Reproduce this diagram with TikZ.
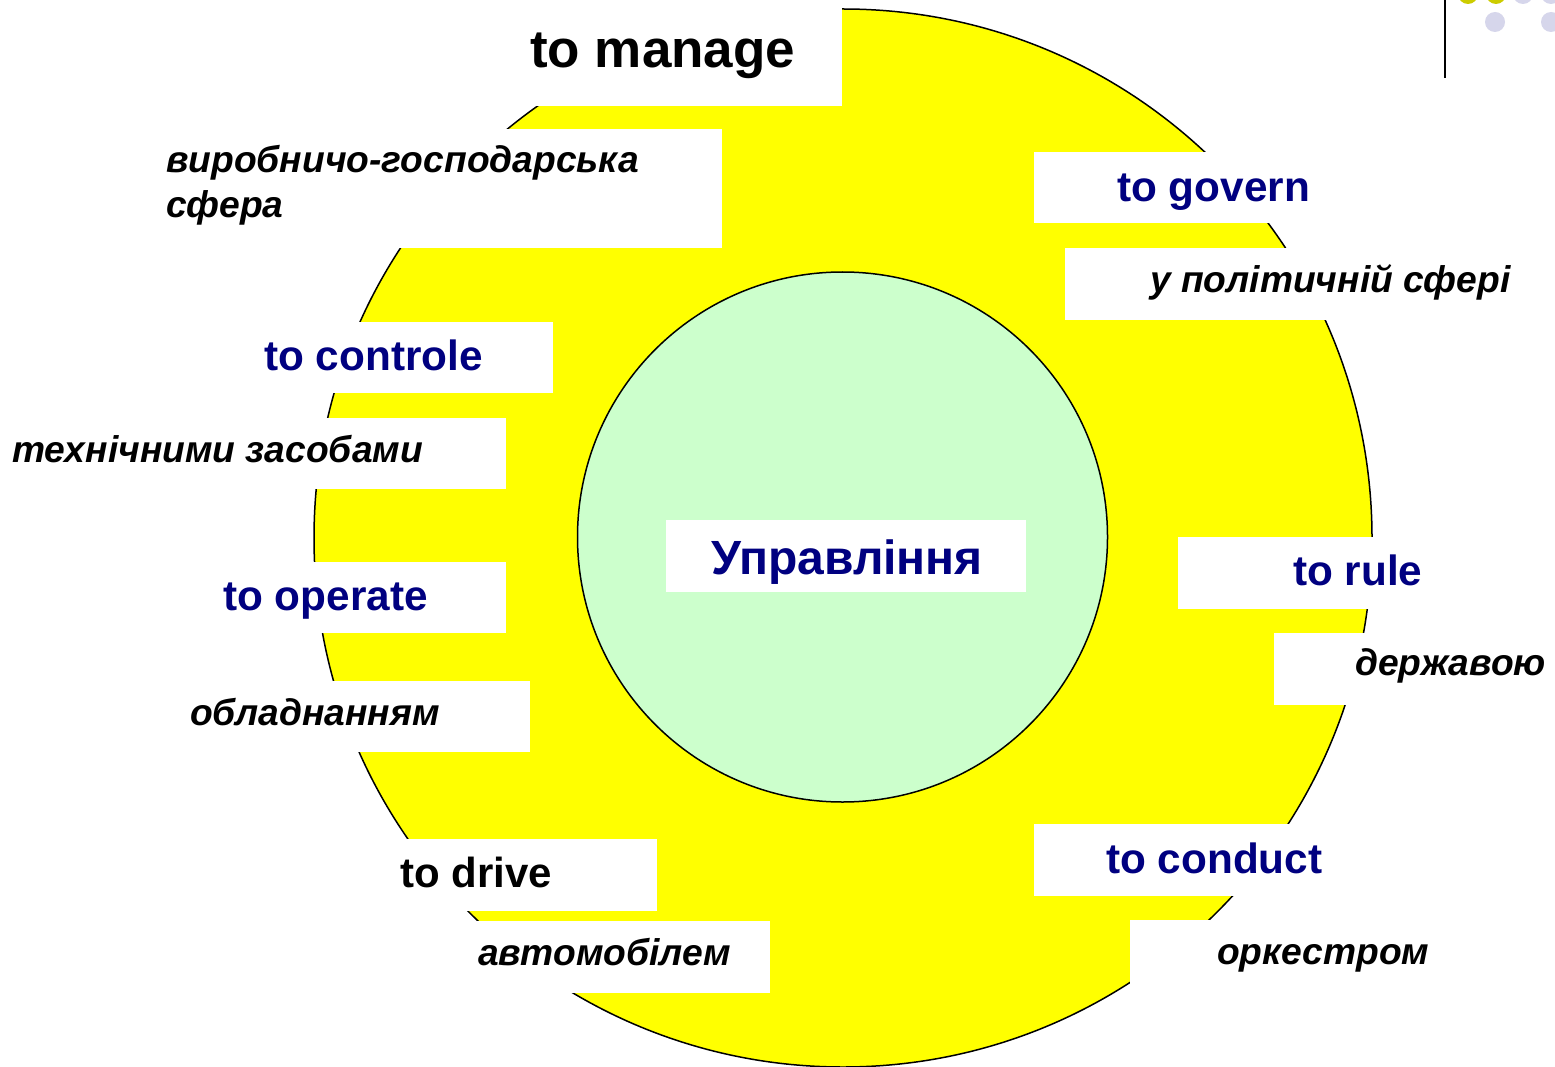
\documentclass[tikz,border=0pt]{standalone}
\usepackage{fontspec}
\setmainfont{Liberation Sans}
\definecolor{navytext}{HTML}{000080}
\definecolor{sunyellow}{HTML}{FFFF00}
\definecolor{palegreen}{HTML}{CCFFCC}
\definecolor{olivedot}{HTML}{CCCC00}
\definecolor{lavdot}{HTML}{D6D6EB}
\newcommand{\wbox}[5]{%
  \node[wboxst, minimum width={(#4-#2)*1pt}, minimum height={(#5-#3)*1pt}] (#1) at ({(#2+#4)/2},{(#3+#5)/2}) {};}
\begin{document}
\begin{tikzpicture}[x=1pt,y=-1pt,
  wboxst/.style={rectangle, fill=white, draw=none, inner sep=0pt, outer sep=0pt},
  entxt/.style={font=\fontsize{42.3}{50}\selectfont\bfseries, text=navytext, anchor=base west, inner sep=0pt},
  bktxt/.style={font=\fontsize{42}{50}\selectfont\bfseries, text=black, anchor=base west, inner sep=0pt},
  uatxt/.style={font=\fontsize{37.2}{45}\selectfont\bfseries\itshape, text=black, anchor=base west, inner sep=0pt},
  dot/.style={circle, inner sep=0pt, minimum size=20pt, draw=none}]
\useasboundingbox (0,0) rectangle (1555,1067);
\fill[white] (0,0) rectangle (1555,1067);
% circles
\node[circle, fill=sunyellow, draw=black, line width=1.5pt, minimum size=1058pt, inner sep=0pt] (outer) at (843,538) {};
\node[circle, fill=palegreen, draw=black, line width=1.5pt, minimum size=530pt, inner sep=0pt] (inner) at (842.5,537) {};
% white boxes
\wbox{bmanage}{505}{0}{842}{106}
\wbox{bvirob}{150}{129}{722}{248}
\wbox{bgovern}{1034}{152}{1330}{223}
\wbox{bpolit}{1065}{248}{1530}{320}
\wbox{bcontrole}{250}{322}{553}{393}
\wbox{btechn}{5}{418}{506}{489}
\wbox{boperate}{210}{562}{506}{633}
\wbox{bobladn}{180}{681}{530}{752}
\wbox{bupr}{666}{520}{1026}{592}
\wbox{brule}{1178}{537}{1440}{609}
\wbox{bderzh}{1274}{633}{1555}{705}
\wbox{bdrive}{390}{839}{657}{911}
\wbox{bavto}{468}{921}{770}{993}
\wbox{bconduct}{1034}{824}{1340}{896}
\wbox{borkestr}{1130}{920}{1450}{992}
% texts
\node[bktxt, font=\fontsize{53}{60}\selectfont\bfseries] (tmanage) at (530,68) {to manage};
\node[uatxt] (tvirob1) at (166,173) {виробничо-господарська};
\node[uatxt] (tvirob2) at (166,218) {сфера};
\node[entxt] (tgovern) at (1117,202) {to govern};
\node[uatxt] (tpolit) at (1150,292) {у політичній сфері};
\node[entxt] (tcontrole) at (264,370) {to controle};
\node[uatxt] (ttechn) at (12,462) {технічними засобами};
\node[entxt] (toperate) at (223,610) {to operate};
\node[uatxt] (tobladn) at (190,725) {обладнанням};
\node[entxt, font=\fontsize{48}{56}\selectfont\bfseries] (tupr) at (711,574) {Управління};
\node[entxt] (trule) at (1293,585) {to rule};
\node[uatxt] (tderzh) at (1355,675) {державою};
\node[bktxt] (tdrive) at (400,887) {to drive};
\node[uatxt] (tavto) at (478,965) {автомобілем};
\node[entxt] (tconduct) at (1106,873) {to conduct};
\node[uatxt] (torkestr) at (1217,964) {оркестром};
% top-right decoration
\draw[line width=2pt] (1445,0) -- (1445,78);
\node[dot, fill=olivedot] (d1) at (1468,-6) {};
\node[dot, fill=olivedot] (d2) at (1496,-6) {};
\node[dot, fill=lavdot] (d3) at (1523,-6) {};
\node[dot, fill=lavdot] (d4) at (1551,-6) {};
\node[dot, fill=lavdot] (d5) at (1495,22) {};
\node[dot, fill=lavdot] (d6) at (1551,22) {};
\end{tikzpicture}
\end{document}
